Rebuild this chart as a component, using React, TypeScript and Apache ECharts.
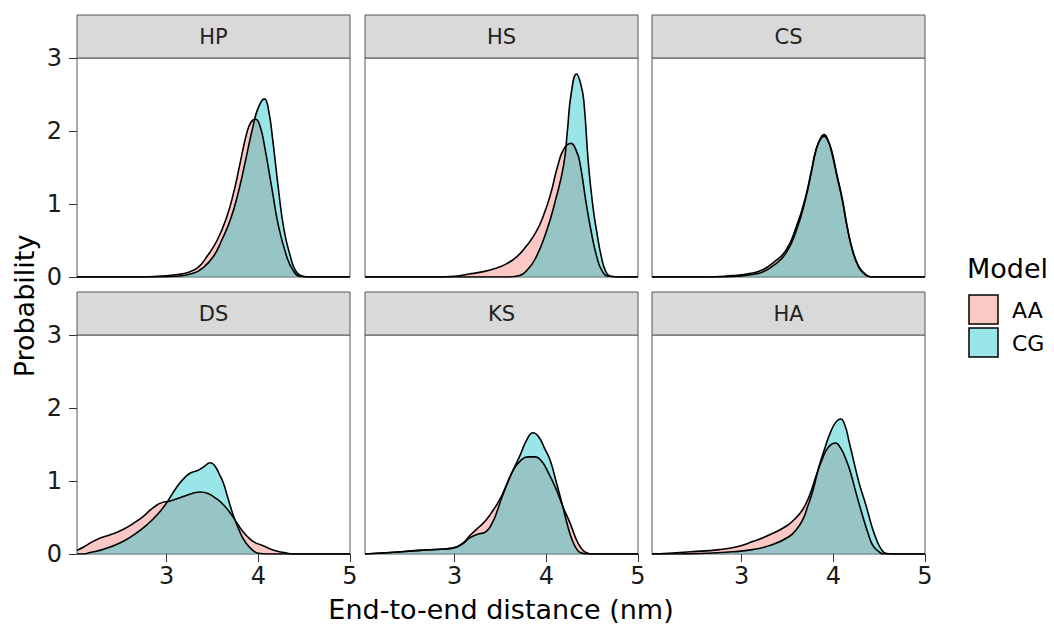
import React, { useEffect, useRef } from "react";
import * as echarts from "echarts";

const PANELS = ["HP", "HS", "CS", "DS", "KS", "HA"];
const MODELS = ["AA", "CG"];
const X_TICKS = [3, 4, 5];
const X_MIN = 2.023;
const X_MAX = 5;
const Y_MAX = 3;

const HP_AA = [[2.023,0],[2.6,0],[2.9,0.01],[3.1,0.03],[3.25,0.07],[3.35,0.14],[3.44,0.28],[3.55,0.5],[3.65,0.8],[3.73,1.15],[3.8,1.55],[3.87,1.95],[3.92,2.12],[3.97,2.16],[4.02,2.06],[4.07,1.78],[4.15,1.2],[4.22,0.7],[4.31,0.28],[4.38,0.09],[4.45,0.01],[4.55,0],[5,0]];
const HP_CG = [[2.023,0],[2.9,0],[3.1,0.01],[3.29,0.05],[3.4,0.13],[3.51,0.28],[3.6,0.5],[3.7,0.8],[3.79,1.2],[3.87,1.65],[3.94,2.05],[4.0,2.32],[4.067,2.44],[4.11,2.3],[4.16,1.85],[4.22,1.2],[4.28,0.65],[4.35,0.28],[4.4,0.1],[4.46,0.02],[4.55,0],[5,0]];
const HS_AA = [[2.023,0],[2.8,0],[3.0,0.01],[3.16,0.04],[3.3,0.07],[3.45,0.12],[3.565,0.18],[3.68,0.28],[3.78,0.42],[3.89,0.62],[3.98,0.88],[4.05,1.15],[4.12,1.5],[4.19,1.75],[4.268,1.83],[4.33,1.72],[4.37,1.54],[4.43,1.05],[4.49,0.62],[4.55,0.28],[4.61,0.08],[4.68,0.01],[4.8,0],[5,0]];
const HS_CG = [[2.023,0],[3.6,0],[3.71,0.02],[3.78,0.08],[3.88,0.25],[4.0,0.62],[4.1,1.05],[4.19,1.54],[4.23,2.0],[4.27,2.5],[4.33,2.78],[4.38,2.62],[4.41,2.4],[4.46,1.54],[4.51,0.95],[4.55,0.62],[4.6,0.28],[4.65,0.07],[4.7,0.01],[4.8,0],[5,0]];
const CS_AA = [[2.023,0],[2.6,0],[2.9,0.02],[3.1,0.05],[3.23,0.1],[3.35,0.2],[3.486,0.37],[3.6,0.7],[3.69,1.06],[3.76,1.45],[3.81,1.74],[3.86,1.9],[3.9,1.95],[3.94,1.88],[3.98,1.74],[4.04,1.4],[4.1,1.06],[4.15,0.7],[4.21,0.37],[4.28,0.14],[4.35,0.04],[4.42,0],[5,0]];
const CS_CG = [[2.023,0],[2.7,0],[2.95,0.01],[3.1,0.03],[3.23,0.07],[3.35,0.16],[3.486,0.33],[3.6,0.65],[3.69,1.03],[3.76,1.43],[3.81,1.73],[3.86,1.89],[3.9,1.93],[3.94,1.87],[3.98,1.72],[4.04,1.38],[4.1,1.04],[4.15,0.69],[4.21,0.36],[4.28,0.13],[4.35,0.03],[4.42,0],[5,0]];
const DS_AA = [[2.023,0.05],[2.1,0.1],[2.24,0.2],[2.4,0.27],[2.53,0.34],[2.65,0.43],[2.75,0.52],[2.83,0.61],[2.9,0.675],[2.96,0.71],[3.02,0.72],[3.1,0.75],[3.19,0.79],[3.28,0.83],[3.37,0.85],[3.45,0.83],[3.53,0.77],[3.62,0.675],[3.7,0.55],[3.77,0.42],[3.83,0.31],[3.88,0.24],[3.96,0.16],[4.06,0.11],[4.17,0.05],[4.28,0.02],[4.38,0],[5,0]];
const DS_CG = [[2.023,0],[2.1,0],[2.165,0.02],[2.3,0.06],[2.49,0.15],[2.65,0.27],[2.785,0.4],[2.9,0.54],[3.0,0.7],[3.06,0.82],[3.13,0.95],[3.2,1.05],[3.26,1.11],[3.33,1.14],[3.4,1.19],[3.477,1.25],[3.53,1.2],[3.58,1.08],[3.62,0.97],[3.67,0.76],[3.73,0.52],[3.79,0.33],[3.84,0.2],[3.9,0.1],[3.95,0.04],[4.0,0.01],[4.1,0],[5,0]];
const KS_AA = [[2.023,0],[2.3,0.02],[2.62,0.05],[2.85,0.065],[2.98,0.08],[3.09,0.15],[3.164,0.25],[3.25,0.35],[3.346,0.47],[3.42,0.6],[3.49,0.74],[3.56,0.93],[3.64,1.15],[3.72,1.28],[3.8,1.33],[3.88,1.33],[3.95,1.27],[4.02,1.12],[4.11,0.88],[4.18,0.65],[4.26,0.42],[4.32,0.22],[4.37,0.1],[4.42,0.03],[4.5,0],[5,0]];
const KS_CG = [[2.023,0],[2.3,0.02],[2.62,0.05],[2.85,0.065],[2.98,0.08],[3.09,0.14],[3.164,0.22],[3.25,0.27],[3.346,0.31],[3.42,0.45],[3.47,0.61],[3.52,0.79],[3.62,1.1],[3.71,1.34],[3.79,1.57],[3.856,1.66],[3.92,1.6],[3.98,1.45],[4.04,1.29],[4.11,0.98],[4.18,0.65],[4.23,0.4],[4.28,0.2],[4.33,0.07],[4.37,0.02],[4.45,0],[5,0]];
const HA_AA = [[2.023,0],[2.2,0.01],[2.45,0.03],[2.756,0.06],[2.95,0.1],[3.12,0.17],[3.3,0.26],[3.486,0.38],[3.58,0.48],[3.667,0.61],[3.74,0.8],[3.81,1.06],[3.88,1.3],[3.95,1.47],[4.025,1.52],[4.08,1.45],[4.13,1.32],[4.18,1.15],[4.25,0.83],[4.32,0.52],[4.38,0.28],[4.43,0.12],[4.49,0.04],[4.55,0],[5,0]];
const HA_CG = [[2.023,0],[2.3,0],[2.6,0.01],[2.9,0.03],[3.12,0.06],[3.34,0.13],[3.52,0.24],[3.6,0.34],[3.667,0.47],[3.72,0.65],[3.78,0.88],[3.84,1.18],[3.9,1.42],[3.97,1.67],[4.03,1.81],[4.08,1.85],[4.13,1.75],[4.17,1.55],[4.21,1.34],[4.28,0.98],[4.36,0.65],[4.42,0.38],[4.47,0.2],[4.52,0.07],[4.57,0.01],[4.65,0],[5,0]];

const AA_DATA = [HP_AA, HS_AA, CS_AA, DS_AA, KS_AA, HA_AA];
const CG_DATA = [HP_CG, HS_CG, CS_CG, DS_CG, KS_CG, HA_CG];

const FILLS = ["rgba(248,118,109,0.4)", "rgba(0,191,196,0.4)"];
const FONT = "DejaVu Sans";
const COL_LEFT = [77, 365, 652];
const ROW_TOP = [58, 335];
const PW = 273;
const PH = 219;
const STRIP_H = 43;

export default function App() {
  const ref = useRef<HTMLDivElement>(null);
  useEffect(() => {
    const chart = echarts.init(ref.current!, null, { renderer: "svg" });
    const grids: any[] = [];
    const xAxes: any[] = [];
    const yAxes: any[] = [];
    const series: any[] = [];
    const graphics: any[] = [];
    PANELS.forEach((name, i) => {
      const col = i % 3;
      const row = Math.floor(i / 3);
      const left = COL_LEFT[col];
      const top = ROW_TOP[row];
      grids.push({
        left, top, width: PW, height: PH,
        show: true, borderColor: "#555", borderWidth: 1, backgroundColor: "#fff",
        containLabel: false,
      });
      const bottom = row === 1;
      xAxes.push({
        type: "value", gridIndex: i, min: X_MIN, max: X_MAX,
        axisLine: { show: false },
        splitLine: { show: false },
        axisTick: { show: bottom, customValues: X_TICKS, length: 8, lineStyle: { color: "#333", width: 1 } },
        axisLabel: { show: bottom, customValues: X_TICKS, fontSize: 24, fontFamily: FONT, color: "#1a1a1a", margin: 10 },
      });
      const leftCol = col === 0;
      yAxes.push({
        type: "value", gridIndex: i, min: 0, max: Y_MAX, interval: 1,
        axisLine: { show: false },
        splitLine: { show: false },
        axisTick: { show: leftCol, length: 8, lineStyle: { color: "#333", width: 1 } },
        axisLabel: { show: leftCol, fontSize: 24, fontFamily: FONT, color: "#1a1a1a", margin: 15 },
      });
      [AA_DATA[i], CG_DATA[i]].forEach((d, m) => {
        series.push({
          type: "line", name: MODELS[m], xAxisIndex: i, yAxisIndex: i,
          data: d, showSymbol: false, symbol: "none", smooth: 0.5,
          lineStyle: { color: "#000", width: 1.6 },
          itemStyle: { color: FILLS[m] },
          areaStyle: { color: FILLS[m], opacity: 1, origin: "start" },
          silent: true,
        });
      });
      graphics.push({
        type: "rect",
        shape: { x: left, y: top - STRIP_H, width: PW, height: STRIP_H },
        style: { fill: "#D9D9D9", stroke: "#555", lineWidth: 1 },
      });
      graphics.push({
        type: "text", x: left + PW / 2, y: top - STRIP_H / 2,
        style: { text: name, fontSize: 21, fontFamily: FONT, fill: "#222", align: "center", verticalAlign: "middle" },
      });
    });

    graphics.push({
      type: "text", x: 501, y: 609,
      style: { text: "End-to-end distance (nm)", fontSize: 27, fontFamily: FONT, fill: "#000", align: "center", verticalAlign: "middle" },
    });
    graphics.push({
      type: "text", x: 24, y: 306, rotation: Math.PI / 2,
      style: { text: "Probability", fontSize: 27, fontFamily: FONT, fill: "#000", align: "center", verticalAlign: "middle" },
    });
    graphics.push({
      type: "text", x: 967, y: 268,
      style: { text: "Model", fontSize: 27, fontFamily: FONT, fill: "#000", align: "left", verticalAlign: "middle" },
    });
    MODELS.forEach((m, k) => {
      const y0 = 295 + k * 33;
      graphics.push({
        type: "rect",
        shape: { x: 969, y: y0, width: 29, height: 29 },
        style: { fill: FILLS[k], stroke: "#000", lineWidth: 1.5 },
      });
      graphics.push({
        type: "text", x: 1012, y: y0 + 15,
        style: { text: m, fontSize: 22, fontFamily: FONT, fill: "#000", align: "left", verticalAlign: "middle" },
      });
    });

    chart.setOption({
      animation: false,
      backgroundColor: "#fff",
      grid: grids,
      xAxis: xAxes,
      yAxis: yAxes,
      series,
      graphic: { elements: graphics },
    });
    return () => chart.dispose();
  }, []);
  return (
    <div
      ref={ref}
      style={{ position: "fixed", left: 0, top: 0, width: 1054, height: 626, background: "#fff" }}
    />
  );
}
